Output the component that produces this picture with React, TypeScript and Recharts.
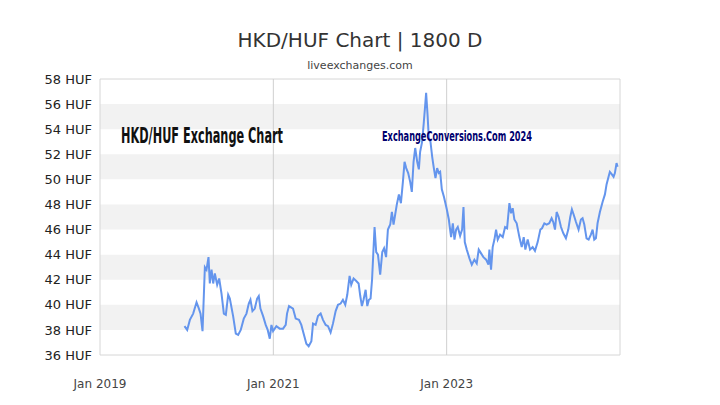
import {
  LineChart,
  Line,
  XAxis,
  YAxis,
  ReferenceArea,
  ReferenceLine,
} from "recharts";

// time as decimal year, rate in HUF per HKD
const years = [
  2019.975, 2020.006, 2020.037, 2020.075, 2020.114, 2020.141, 2020.16, 2020.183, 2020.21, 2020.229,
  2020.252, 2020.267, 2020.287, 2020.306, 2020.325, 2020.352, 2020.375, 2020.402, 2020.429, 2020.452,
  2020.479, 2020.498, 2020.536, 2020.567, 2020.594, 2020.624, 2020.659, 2020.69, 2020.717, 2020.736,
  2020.759, 2020.786, 2020.813, 2020.832, 2020.851, 2020.882, 2020.912, 2020.935, 2020.959, 2020.978,
  2020.997, 2021.035, 2021.074, 2021.112, 2021.143, 2021.158, 2021.181, 2021.227, 2021.258, 2021.296,
  2021.323, 2021.35, 2021.381, 2021.408, 2021.439, 2021.458, 2021.488, 2021.515, 2021.546, 2021.573,
  2021.604, 2021.631, 2021.661, 2021.688, 2021.719, 2021.746, 2021.777, 2021.803, 2021.83, 2021.853,
  2021.88, 2021.899, 2021.926, 2021.957, 2021.984, 2022.003, 2022.022, 2022.041, 2022.065, 2022.084,
  2022.103, 2022.122, 2022.139, 2022.157, 2022.168, 2022.187, 2022.207, 2022.233, 2022.257, 2022.278,
  2022.301, 2022.322, 2022.349, 2022.368, 2022.387, 2022.406, 2022.425, 2022.449, 2022.472, 2022.495,
  2022.514, 2022.533, 2022.556, 2022.579, 2022.598, 2022.618, 2022.637, 2022.66, 2022.679, 2022.694,
  2022.717, 2022.737, 2022.752, 2022.763, 2022.779, 2022.794, 2022.813, 2022.833, 2022.852, 2022.871,
  2022.89, 2022.909, 2022.925, 2022.944, 2022.969, 2023.002, 2023.025, 2023.051, 2023.071, 2023.09,
  2023.109, 2023.128, 2023.155, 2023.178, 2023.194, 2023.209, 2023.232, 2023.263, 2023.29, 2023.32,
  2023.347, 2023.37, 2023.397, 2023.424, 2023.455, 2023.482, 2023.493, 2023.512, 2023.531, 2023.551,
  2023.57, 2023.589, 2023.616, 2023.647, 2023.674, 2023.697, 2023.724, 2023.743, 2023.762, 2023.781,
  2023.808, 2023.839, 2023.866, 2023.889, 2023.908, 2023.935, 2023.962, 2023.992, 2024.019, 2024.05,
  2024.081, 2024.1, 2024.127, 2024.154, 2024.184, 2024.211, 2024.23, 2024.25, 2024.269, 2024.292,
  2024.319, 2024.346, 2024.376, 2024.403, 2024.426, 2024.445, 2024.465, 2024.492, 2024.522, 2024.549,
  2024.568, 2024.588, 2024.614, 2024.638, 2024.664, 2024.684, 2024.703, 2024.722, 2024.741, 2024.768,
  2024.799, 2024.826, 2024.845, 2024.868, 2024.883, 2024.906, 2024.926, 2024.941, 2024.96, 2024.972,
];

const rates = [
  38.3, 38.0, 38.8, 39.3, 40.2, 39.7, 39.3, 37.9, 43.0, 42.8,
  43.8, 41.7, 42.8, 41.7, 42.5, 41.6, 42.1, 40.9, 39.3, 39.2,
  40.8, 40.5, 39.1, 37.7, 37.6, 38.0, 38.9, 39.3, 40.1, 40.4,
  39.5, 39.7, 40.5, 40.7, 39.7, 39.1, 38.4, 38.0, 37.3, 38.4,
  37.9, 38.3, 38.1, 38.1, 38.4, 39.3, 39.9, 39.7, 38.9, 38.8,
  38.4, 37.7, 36.9, 36.7, 37.1, 38.5, 38.4, 39.1, 39.3, 38.8,
  38.4, 38.3, 37.8, 38.5, 39.5, 40.0, 40.1, 40.4, 40.0, 40.8,
  42.3, 41.6, 42.1, 41.9, 41.7, 40.7, 39.9, 40.4, 41.2, 39.9,
  40.4, 40.5, 42.0, 44.6, 46.2, 44.2, 44.0, 42.4, 44.2, 44.5,
  43.8, 46.0, 46.4, 47.4, 46.4, 47.2, 48.0, 48.8, 48.1, 49.8,
  51.4, 50.9, 50.5, 49.8, 49.0, 51.4, 52.5, 51.4, 50.8, 52.2,
  53.0, 54.6, 55.9, 56.9, 55.2, 53.3, 53.0, 51.8, 50.9, 50.1,
  50.9, 50.5, 50.6, 49.2, 48.6, 47.6, 46.8, 45.4, 46.5, 45.2,
  46.0, 46.2, 45.5, 46.0, 47.8, 45.0, 44.4, 43.7, 43.2, 43.6,
  43.3, 44.4, 44.1, 43.8, 43.6, 43.2, 44.4, 42.8, 44.6, 45.2,
  46.0, 45.2, 45.6, 45.4, 46.2, 46.1, 48.1, 47.3, 47.7, 46.8,
  46.5, 45.4, 44.6, 45.4, 44.4, 45.2, 44.4, 44.6, 44.3, 45.0,
  46.0, 46.1, 46.5, 46.4, 46.5, 46.9, 46.6, 46.0, 47.4, 47.0,
  46.2, 45.7, 45.3, 46.0, 47.0, 47.6, 47.2, 46.6, 46.0, 46.8,
  46.9, 46.4, 45.3, 45.2, 45.6, 46.0, 45.2, 45.3, 46.5, 47.4,
  48.2, 48.8, 49.6, 50.2, 50.6, 50.4, 50.2, 50.5, 51.3, 51.0,
];

const xTicks = [2019, 2021, 2023];
const yTicks = [36, 38, 40, 42, 44, 46, 48, 50, 52, 54, 56, 58];
const yTicksRight = [
  36, 37, 38, 39, 40, 41, 42, 43, 44, 45, 46, 47, 48, 49, 50, 51, 52, 53, 54, 55, 56, 57, 58,
];
const bands = [
  [38, 40],
  [42, 44],
  [46, 48],
  [50, 52],
  [54, 56],
];

const data = years.map((t, i) => ({ t, rate: rates[i] }));

const FONT = "DejaVu Sans";

function RightTick(props: any) {
  const { x, y, payload } = props;
  const v = payload.value;
  return (
    <g>
      {v > 36 && v < 58 && (
        <line x1={x - 4} x2={x} y1={y} y2={y} stroke="#444" strokeWidth={1} />
      )}
      {v % 2 === 0 && (
        <text x={x + 7} y={y} dy={4.5} fontSize={13} fill="#222" fontFamily={FONT}>
          {v} HUF
        </text>
      )}
    </g>
  );
}

export default function App() {
  return (
    <div
      style={{
        position: "absolute",
        left: 0,
        top: 0,
        width: 720,
        height: 405,
        background: "#fff",
        fontFamily: FONT,
      }}
    >
      <LineChart
        width={720}
        height={405}
        data={data}
        margin={{ top: 79, right: 0, bottom: 0, left: 0 }}
      >
        {bands.map(([a, b]) => (
          <ReferenceArea
            key={a}
            yAxisId="left"
            x1={2019}
            x2={2025}
            y1={a}
            y2={b}
            fill="#f2f2f2"
            fillOpacity={1}
            stroke="none"
          />
        ))}
        <ReferenceLine yAxisId="left" x={2021} stroke="#cfcfcf" />
        <ReferenceLine yAxisId="left" x={2023} stroke="#cfcfcf" />
        <ReferenceArea
          yAxisId="left"
          x1={2019}
          x2={2025}
          y1={36}
          y2={58}
          fill="none"
          stroke="#d6d6d6"
        />
        <XAxis
          dataKey="t"
          type="number"
          domain={[2019, 2025]}
          ticks={xTicks}
          tickFormatter={(v) => `Jan ${v}`}
          axisLine={false}
          tickLine={false}
          tickSize={0}
          tickMargin={24}
          height={50}
          tick={{ fontSize: 12, fill: "#444", fontFamily: FONT }}
        />
        <YAxis
          yAxisId="left"
          orientation="left"
          domain={[36, 58]}
          ticks={yTicks}
          tickFormatter={(v) => `${v} HUF`}
          axisLine={false}
          tickLine={false}
          tickSize={0}
          tickMargin={8}
          width={100}
          tick={{ fontSize: 13, fill: "#222", fontFamily: FONT }}
        />
        <YAxis
          yAxisId="right"
          orientation="right"
          domain={[36, 58]}
          ticks={yTicksRight}
          interval={0}
          axisLine={false}
          tickLine={false}
          tickSize={0}
          tickMargin={0}
          width={100}
          tick={<RightTick />}
        />
        <Line
          yAxisId="left"
          type="linear"
          dataKey="rate"
          stroke="#6495ed"
          strokeWidth={2}
          dot={false}
          isAnimationActive={false}
        />
      </LineChart>
      <svg
        width={720}
        height={405}
        style={{ position: "absolute", left: 0, top: 0, pointerEvents: "none" }}
      >
        <text x={360} y={47} textAnchor="middle" fontSize={20} fill="#333" fontFamily={FONT}>
          HKD/HUF Chart | 1800 D
        </text>
        <text x={360} y={69} textAnchor="middle" fontSize={11} fill="#444" fontFamily={FONT}>
          liveexchanges.com
        </text>
        <text
          x={121}
          y={142.5}
          fontSize={22}
          fontWeight="bold"
          fill="#111"
          fontFamily="DejaVu Sans Condensed"
          textLength={162}
          lengthAdjust="spacingAndGlyphs"
        >
          HKD/HUF Exchange Chart
        </text>
        <text
          x={382}
          y={141}
          fontSize={14}
          fontWeight="bold"
          fill="#00006e"
          fontFamily="DejaVu Sans Condensed"
          textLength={150}
          lengthAdjust="spacingAndGlyphs"
        >
          ExchangeConversions.Com 2024
        </text>
      </svg>
    </div>
  );
}
